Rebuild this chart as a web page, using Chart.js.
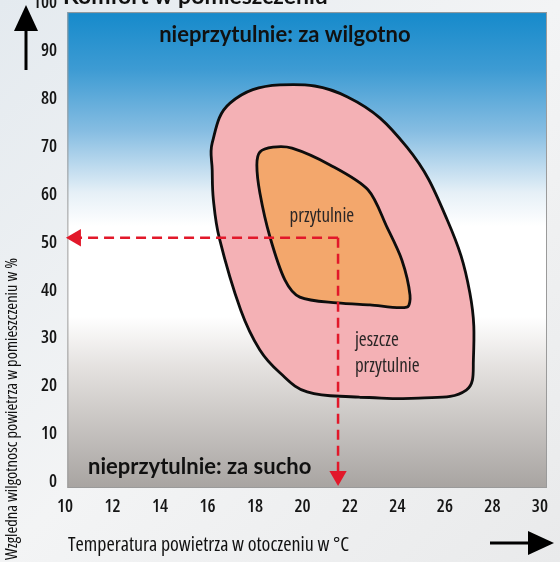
<!DOCTYPE html>
<html><head><meta charset="utf-8">
<script src="https://cdn.jsdelivr.net/npm/chart.js@4.4.0/dist/chart.umd.min.js"></script>
<style>html,body{margin:0;padding:0;background:#eef1f3;overflow:hidden}</style>
</head><body>
<canvas id="c" width="560" height="562"></canvas>
<script>
// ---- data ----
const xTicks = [10, 12, 14, 16, 18, 20, 22, 24, 26, 28, 30];
const yTicks = [0, 10, 20, 30, 40, 50, 60, 70, 80, 90, 100];

// outer zone "jeszcze przytulnie" (temperature °C, humidity %)
const outerTemp = [22.4, 24.9, 26.9, 27.2, 27.05, 26.1, 24.4, 21.9, 19.05, 16.95, 16.2, 16.2, 16.25, 16.5, 17.4, 18.2, 19.05, 20.2, 22.4];
const outerHum  = [17.7, 17.5, 19.2, 25.5, 39.5, 54.7, 69.9, 80.4, 82.9, 79.1, 70.8, 65.1, 58.9, 50.9, 35.9, 27.6, 22.8, 18.8, 17.7];

// inner zone "przytulnie"
const innerTemp = [22.84, 24.4, 24.53, 24.19, 23.56, 22.76, 21.16, 19.56, 18.76, 18.21, 18.08, 18.21, 18.63, 19.26, 19.89, 21.45, 22.84];
const innerHum  = [37.0, 36.5, 39.0, 46.3, 53.2, 61.0, 66.2, 69.7, 69.9, 68.9, 66.2, 60.3, 51.2, 42.2, 38.6, 37.4, 37.0];

// example reading
const pointerTemp = 21.5;
const pointerHum = 51;
const pointerTempEnd = 10.46;
const pointerHumEnd = 1.25;

// ---- texts ----
const txtTitle = 'Komfort w pomieszczeniu';
const txtWet = 'nieprzytulnie: za wilgotno';
const txtDry = 'nieprzytulnie: za sucho';
const txtCozy = 'przytulnie';
const txtStill1 = 'jeszcze';
const txtStill2 = 'przytulnie';
const txtX = 'Temperatura powietrza w otoczeniu w °C';
const txtY = 'Wzgledna wilgotnosc powietrza w pomieszczeniu w %';

const NARROW = "'Open Sans'";
const BOLD = "Lato,'Open Sans',sans-serif";

function pts(xs, ys){ return xs.map((x,i)=>({x:x, y:ys[i]})); }

const decor = {
  id: 'decor',
  beforeDraw(chart){
    const ctx = chart.ctx, W = chart.width, H = chart.height;
    ctx.save();
    const g = ctx.createLinearGradient(0,0,W,H);
    g.addColorStop(0,'#e4eaef'); g.addColorStop(0.5,'#f3f4f5'); g.addColorStop(1,'#e9eaeb');
    ctx.fillStyle = g; ctx.fillRect(0,0,W,H);
    // plot box
    const xs = chart.scales.x, ys = chart.scales.y;
    const l = xs.getPixelForValue(10.1), r = xs.getPixelForValue(30.3);
    const t = ys.getPixelForValue(98.1), b = ys.getPixelForValue(-1.25);
    const bg = ctx.createLinearGradient(0,t,0,b);
    bg.addColorStop(0,'#168acb');
    bg.addColorStop(0.12,'#3d9bd3');
    bg.addColorStop(0.25,'#86bde2');
    bg.addColorStop(0.38,'#e6f0f7');
    bg.addColorStop(0.45,'#ffffff');
    bg.addColorStop(0.64,'#ffffff');
    bg.addColorStop(0.75,'#e3e0de');
    bg.addColorStop(1,'#a8a4a1');
    ctx.fillStyle = bg; ctx.fillRect(l,t,r-l,b-t);
    ctx.strokeStyle = '#9a9a9a'; ctx.lineWidth = 1;
    ctx.strokeRect(l+0.5,t+0.5,r-l-1,b-t-1);
    // cut title at the very top
    ctx.fillStyle = '#111';
    ctx.font = "bold 23px " + BOLD;
    ctx.textBaseline = 'alphabetic'; ctx.textAlign = 'left';
    ctx.fillText(txtTitle, 63, 4);
    ctx.restore();
  },
  afterDraw(chart){
    const ctx = chart.ctx;
    const xs = chart.scales.x, ys = chart.scales.y;
    const X = v=>xs.getPixelForValue(v), Y = v=>ys.getPixelForValue(v);
    ctx.save();
    ctx.fillStyle = '#111';
    ctx.textBaseline = 'middle';
    ctx.font = "bold 22px " + BOLD;
    ctx.textAlign = 'center';
    ctx.fillText(txtWet, X(19.26), Y(93.3));
    ctx.textAlign = 'left';
    ctx.fillText(txtDry, X(10.97), Y(3.1));
    ctx.fillStyle = '#2a2626';
    ctx.font = "500 condensed 19px " + NARROW;
    ctx.textAlign = 'center';
    ctx.fillText(txtCozy, X(20.82), Y(55.5));
    ctx.textAlign = 'left';
    ctx.fillText(txtStill1, X(22.21), Y(29.6));
    ctx.fillText(txtStill2, X(22.21), Y(24.0));
    // axis titles
    ctx.fillStyle = '#111';
    ctx.font = "500 condensed 20px " + NARROW;
    ctx.textAlign = 'left';
    ctx.fillText(txtX, 68, 545);
    ctx.save();
    ctx.translate(12, 560);
    ctx.rotate(-Math.PI/2);
    ctx.font = "500 condensed 16.5px " + NARROW;
    ctx.fillText(txtY, 0, 0);
    ctx.restore();
    // black arrows
    ctx.fillStyle = '#000'; ctx.strokeStyle = '#000'; ctx.lineWidth = 3;
    ctx.beginPath(); ctx.moveTo(26,70); ctx.lineTo(26,28); ctx.stroke();
    ctx.beginPath(); ctx.moveTo(26,5); ctx.lineTo(14,31); ctx.lineTo(38,31); ctx.closePath(); ctx.fill();
    ctx.beginPath(); ctx.moveTo(490,543); ctx.lineTo(532,543); ctx.stroke();
    ctx.beginPath(); ctx.moveTo(554,543); ctx.lineTo(528,531); ctx.lineTo(528,555); ctx.closePath(); ctx.fill();
    ctx.restore();
  }
};

new Chart(document.getElementById('c'), {
  type: 'scatter',
  data: {
    datasets: [
      { data: [{x:pointerTemp,y:pointerHum},{x:pointerTempEnd,y:pointerHum}],
        showLine: true, borderColor: '#e2182a', borderWidth: 2.5, borderDash: [10,6],
        pointRadius: [0,10], pointStyle: 'triangle', pointRotation: [0,-90],
        pointBackgroundColor: '#e2182a', pointBorderWidth: 0, clip: false, fill: false },
      { data: [{x:pointerTemp,y:pointerHum},{x:pointerTemp,y:pointerHumEnd}],
        showLine: true, borderColor: '#e2182a', borderWidth: 2.5, borderDash: [10,6],
        pointRadius: [0,10], pointStyle: 'triangle', pointRotation: [0,180],
        pointBackgroundColor: '#e2182a', pointBorderWidth: 0, clip: false, fill: false },
      { data: pts(innerTemp, innerHum), showLine: true, fill: 'shape',
        backgroundColor: '#f3a76c', borderColor: '#0d0d0d', borderWidth: 2.8,
        tension: 0.3, pointRadius: 0 },
      { data: pts(outerTemp, outerHum), showLine: true, fill: 'shape',
        backgroundColor: '#f4b1b5', borderColor: '#0d0d0d', borderWidth: 2.8,
        tension: 0.4, pointRadius: 0 }
    ]
  },
  options: {
    responsive: false, animation: false, devicePixelRatio: 1,
    layout: { padding: { top: 3, right: 13, bottom: 0, left: 0 } },
    plugins: { legend: { display: false }, tooltip: { enabled: false } },
    scales: {
      x: { type: 'linear', min: 10, max: 30.3,
        grid: { display: false, drawTicks: false }, border: { display: false },
        ticks: { color: '#151515', padding: 8, font: { family: NARROW, size: 18, weight: '600 condensed' } },
        afterBuildTicks: s => { s.ticks = xTicks.map(v => ({ value: v })); },
        afterFit: s => { s.height = 74; } },
      y: { type: 'linear', min: -1.25, max: 98.54,
        grid: { display: false, drawTicks: false }, border: { display: false },
        ticks: { color: '#151515', padding: 8, font: { family: NARROW, size: 18, weight: '600 condensed' } },
        afterBuildTicks: s => { s.ticks = yTicks.map(v => ({ value: v })); },
        afterFit: s => { s.width = 65; s.paddingTop = 0; s.paddingBottom = 0; } }
    }
  },
  plugins: [decor]
});
</script>
</body></html>
